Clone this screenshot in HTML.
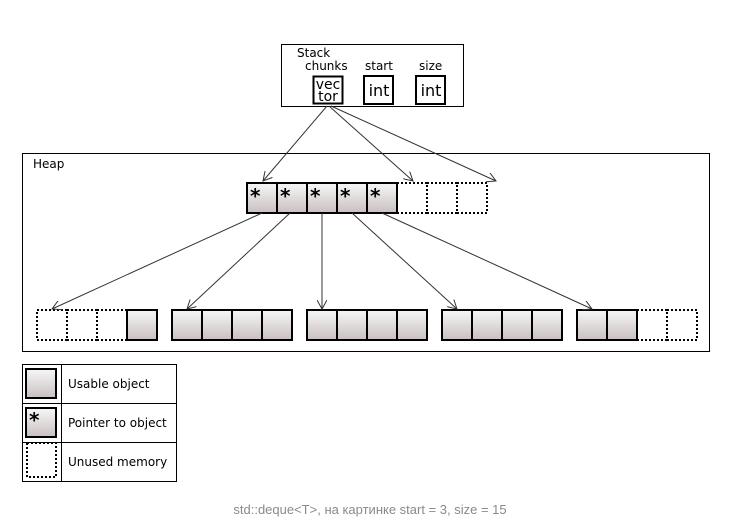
<!DOCTYPE html>
<html><head><meta charset="utf-8"><style>
body{margin:0;background:#fff;width:742px;height:529px;overflow:hidden}
svg{display:block}
text{font-family:"DejaVu Sans",sans-serif;fill:#000}
</style></head><body>
<svg width="742" height="529" viewBox="0 0 742 529" xmlns="http://www.w3.org/2000/svg">
<defs>
<linearGradient id="g" x1="0" y1="0" x2="0" y2="1">
<stop offset="0" stop-color="#f7f7f7"/><stop offset="1" stop-color="#c9c0c0"/>
</linearGradient>
<marker id="a" markerWidth="10" markerHeight="10" refX="9" refY="5" orient="auto" markerUnits="userSpaceOnUse">
<path d="M0,0 L9,5 L0,10" fill="none" stroke="#333" stroke-width="1"/>
</marker>
</defs>
<rect x="281.5" y="44.5" width="182" height="62" fill="none" stroke="#000"/>
<text x="297" y="57" font-size="12">Stack</text>
<text x="305" y="70" font-size="12">chunks</text>
<text x="365" y="70" font-size="12">start</text>
<text x="419" y="70" font-size="12">size</text>
<rect x="313.5" y="76.5" width="29" height="27" fill="#fff" stroke="#000" stroke-width="2"/>
<text x="328" y="89" font-size="14" text-anchor="middle">vec</text>
<text x="328" y="101" font-size="14" text-anchor="middle">tor</text>
<rect x="364" y="76" width="29" height="28" fill="#fff" stroke="#000" stroke-width="2"/>
<text x="379" y="96" font-size="16" text-anchor="middle">int</text>
<rect x="416" y="76" width="29" height="28" fill="#fff" stroke="#000" stroke-width="2"/>
<text x="431" y="96" font-size="16" text-anchor="middle">int</text>
<rect x="22.5" y="153.5" width="687" height="198" fill="none" stroke="#000"/>
<text x="33" y="168" font-size="12">Heap</text>
<g stroke="#000" stroke-width="2" fill="url(#g)">
<rect x="247" y="183" width="30" height="30"/><rect x="277" y="183" width="30" height="30"/>
<rect x="307" y="183" width="30" height="30"/><rect x="337" y="183" width="30" height="30"/>
<rect x="367" y="183" width="30" height="30"/>
</g>
<g font-size="20" font-weight="bold">
<text x="250" y="203">*</text><text x="280" y="203">*</text><text x="310" y="203">*</text><text x="340" y="203">*</text><text x="370" y="203">*</text>
</g>
<g stroke="#000" stroke-width="2" fill="none" stroke-dasharray="2,2">
<rect x="397" y="183" width="30" height="30"/><rect x="427" y="183" width="30" height="30"/><rect x="457" y="183" width="30" height="30"/>
<rect x="37" y="310" width="30" height="30"/><rect x="67" y="310" width="30" height="30"/><rect x="97" y="310" width="30" height="30"/>
<rect x="637" y="310" width="30" height="30"/><rect x="667" y="310" width="30" height="30"/>
<rect x="27" y="443" width="29" height="34"/>
</g>
<g stroke="#000" stroke-width="2" fill="url(#g)">
<rect x="127" y="310" width="30" height="30"/>
<rect x="172" y="310" width="30" height="30"/><rect x="202" y="310" width="30" height="30"/><rect x="232" y="310" width="30" height="30"/><rect x="262" y="310" width="30" height="30"/>
<rect x="307" y="310" width="30" height="30"/><rect x="337" y="310" width="30" height="30"/><rect x="367" y="310" width="30" height="30"/><rect x="397" y="310" width="30" height="30"/>
<rect x="442" y="310" width="30" height="30"/><rect x="472" y="310" width="30" height="30"/><rect x="502" y="310" width="30" height="30"/><rect x="532" y="310" width="30" height="30"/>
<rect x="577" y="310" width="30" height="30"/><rect x="607" y="310" width="30" height="30"/>
<rect x="26" y="369" width="30" height="29"/>
<rect x="26" y="408" width="30" height="29"/>
</g>
<g stroke="#333" stroke-width="1" fill="none" marker-end="url(#a)">
<line x1="327" y1="106" x2="263" y2="181"/>
<line x1="329" y1="106" x2="413" y2="181"/>
<line x1="331" y1="106" x2="496" y2="181"/>
<line x1="262" y1="213" x2="52" y2="309"/>
<line x1="290" y1="213" x2="187" y2="309"/>
<line x1="322" y1="213" x2="322" y2="309"/>
<line x1="352" y1="213" x2="457" y2="309"/>
<line x1="382" y1="213" x2="592" y2="309"/>
</g>
<rect x="22.5" y="364.5" width="154" height="117" fill="none" stroke="#000"/>
<line x1="61.5" y1="364" x2="61.5" y2="481" stroke="#000"/>
<line x1="22" y1="403.5" x2="176" y2="403.5" stroke="#000"/>
<line x1="22" y1="442.5" x2="176" y2="442.5" stroke="#000"/>
<text x="29" y="427" font-size="20" font-weight="bold">*</text>
<text x="68" y="388" font-size="12">Usable object</text>
<text x="68" y="427" font-size="12">Pointer to object</text>
<text x="68" y="466" font-size="12">Unused memory</text>
<text x="370" y="514" font-size="13" text-anchor="middle" style="font-family:'Liberation Sans',sans-serif;fill:#8a8a8a">std::deque&lt;T&gt;, на картинке start = 3, size = 15</text>
</svg>
</body></html>
